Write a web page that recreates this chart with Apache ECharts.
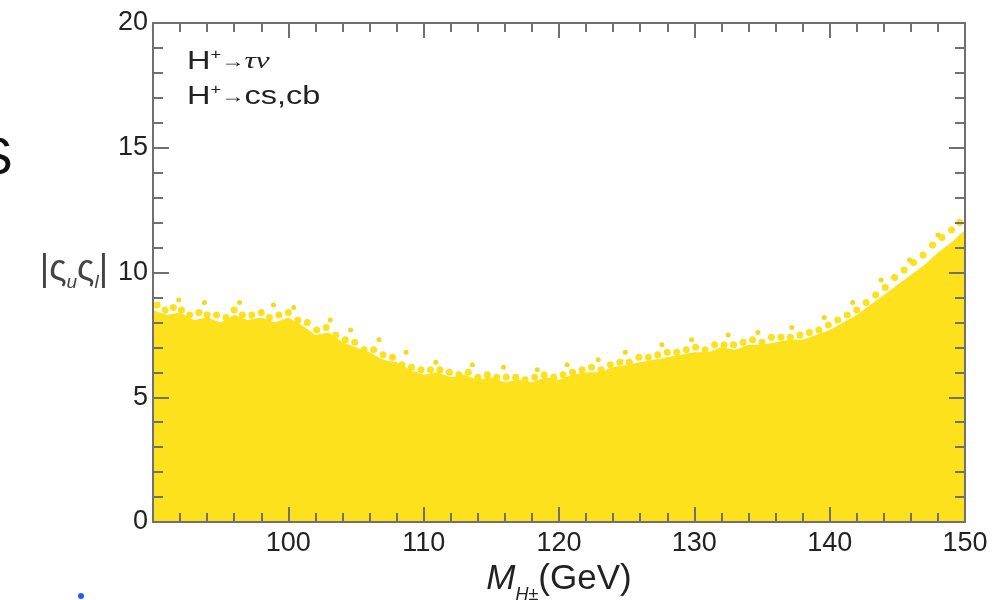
<!DOCTYPE html>
<html>
<head>
<meta charset="utf-8">
<script src="https://cdn.jsdelivr.net/npm/echarts@6/dist/echarts.min.js"></script>
<style>html,body{margin:0;padding:0;background:#fff;}#c{width:995px;height:600px;}</style>
</head>
<body>
<div id="c"></div>
<script>
// ---- data ----
const massGrid = [90,91,92,93,94,95,96,97,98,99,100,101,102,103,104,105,106,107,108,109,110,111,112,113,114,115,116,117,118,119,120,121,122,123,124,125,126,127,128,129,130,131,132,133,134,135,136,137,138,139,140,141,142,143,144,145,146,147,148,149,150];
const envelopeTop = [8.5,8.3,8.4,8.1,8.2,8.0,8.3,8.1,8.2,8.0,8.2,7.9,7.5,7.6,7.2,7.0,6.8,6.5,6.4,6.1,5.9,6.0,5.8,5.9,5.7,5.8,5.6,5.7,5.6,5.8,5.7,5.9,6.0,6.0,6.2,6.3,6.4,6.5,6.6,6.7,6.8,6.8,7.0,6.9,7.1,7.1,7.2,7.3,7.3,7.5,7.7,8.0,8.3,8.7,9.1,9.5,9.9,10.3,10.8,11.2,11.7];
// points sitting on the ragged upper edge
const edgeMass = [90.3,90.9,91.5,92.1,92.7,93.4,94.0,94.7,95.4,96.0,96.6,97.3,98.0,98.6,99.3,100.0,100.7,101.4,102.1,102.8,103.5,104.2,104.9,105.6,106.3,107.0,107.7,108.4,109.1,109.8,110.5,111.2,111.9,112.6,113.3,114.0,114.7,115.4,116.1,116.8,117.5,118.2,118.9,119.6,120.3,121.0,121.7,122.4,123.1,123.8,124.5,125.2,125.9,126.6,127.3,128.0,128.7,129.4,130.1,130.8,131.5,132.2,132.9,133.6,134.3,135.0,135.7,136.4,137.1,137.8,138.5,139.2,139.9,140.6,141.3,142.0,142.7,143.4,144.1,144.8,145.5,146.2,146.9,147.6,148.3,149.0,149.6];
const edgeCoupling = [8.7,8.5,8.6,8.5,8.3,8.4,8.3,8.3,8.2,8.5,8.3,8.3,8.4,8.2,8.3,8.4,8.1,8.0,7.7,7.8,7.5,7.3,7.2,6.9,6.9,6.7,6.6,6.3,6.2,6.1,6.1,6.1,6.0,5.9,6.0,5.8,5.9,5.8,5.8,5.8,5.7,5.8,5.9,5.8,5.9,6.0,6.1,6.2,6.1,6.3,6.4,6.4,6.6,6.6,6.7,6.8,6.8,6.9,7.0,6.9,7.1,7.1,7.1,7.2,7.3,7.2,7.4,7.4,7.4,7.5,7.6,7.7,7.9,8.1,8.3,8.5,8.8,9.1,9.4,9.8,10.1,10.4,10.7,11.1,11.4,11.7,12.0];
// isolated points above the edge
const strayMass = [91.9,93.8,96.4,98.9,100.4,103.1,104.6,106.7,108.7,110.9,113.6,115.9,118.4,120.6,122.9,124.9,127.6,129.8,132.5,134.7,137.2,139.6,141.7,143.8,145.9,148.0];
const strayCoupling = [8.9,8.8,8.8,8.7,8.6,8.1,7.7,7.3,6.8,6.4,6.3,6.2,6.1,6.3,6.5,6.8,7.1,7.3,7.5,7.6,7.8,8.2,8.8,9.7,10.5,11.5];
const xTicks = {min: 90, max: 150, interval: 10};
const yTicks = {min: 0, max: 20, interval: 5};

const fillColor = '#FCE11C';
const edgeColor = '#F3D91C';
const axisColor = '#707070';
const labelFont = 'Liberation Sans, Arial, Helvetica, sans-serif';

const chart = echarts.init(document.getElementById('c'), null, {renderer: 'canvas'});

const baseX = {
  type: 'value', min: xTicks.min, max: xTicks.max, interval: xTicks.interval, z: 5,
  axisLine: {show: true, onZero: false, lineStyle: {color: axisColor, width: 2}},
  axisTick: {show: true, inside: true, length: 15, lineStyle: {color: axisColor, width: 2}},
  minorTick: {show: true, splitNumber: 5, length: 9, lineStyle: {color: axisColor, width: 2}},
  splitLine: {show: false}
};
const baseY = {
  type: 'value', min: yTicks.min, max: yTicks.max, interval: yTicks.interval, z: 5,
  axisLine: {show: true, onZero: false, lineStyle: {color: axisColor, width: 2}},
  axisTick: {show: true, inside: true, length: 16, lineStyle: {color: axisColor, width: 2}},
  minorTick: {show: true, splitNumber: 5, length: 10, lineStyle: {color: axisColor, width: 2}},
  splitLine: {show: false}
};

const option = {
  animation: false,
  backgroundColor: '#ffffff',
  grid: {left: 153, right: 30, top: 23, bottom: 78, containLabel: false, outerBoundsMode: 'none'},
  xAxis: [
    Object.assign({}, baseX, {
      position: 'bottom',
      axisLabel: {show: true, showMinLabel: false, margin: 8, fontSize: 27, color: '#222', fontFamily: labelFont},
      name: '{m|M}{s|H±}{n|(GeV)}',
      nameLocation: 'middle',
      nameGap: 33,
      nameTextStyle: {
        color: '#222',
        rich: {
          m: {fontSize: 35, fontStyle: 'italic', fontFamily: labelFont, lineHeight: 42, verticalAlign: 'top', color: '#222'},
          s: {fontSize: 18, fontStyle: 'italic', fontFamily: labelFont, lineHeight: 18, verticalAlign: 'bottom', color: '#222'},
          n: {fontSize: 35, fontFamily: labelFont, lineHeight: 42, verticalAlign: 'top', color: '#222'}
        }
      }
    }),
    Object.assign({}, baseX, {position: 'top', axisLabel: {show: false}})
  ],
  yAxis: [
    Object.assign({}, baseY, {
      position: 'left',
      axisLabel: {show: true, margin: 5, fontSize: 27, color: '#222', fontFamily: labelFont},
      name: '{t||ς}{s|u}{t|ς}{s|l}{t||}',
      nameLocation: 'middle',
      nameRotate: 0,
      nameGap: 45,
      nameTextStyle: {
        color: '#444',
        rich: {
          t: {fontSize: 36, fontFamily: labelFont, lineHeight: 40, verticalAlign: 'top', color: '#444'},
          s: {fontSize: 19, fontStyle: 'italic', fontFamily: labelFont, lineHeight: 18, verticalAlign: 'bottom', color: '#444'}
        }
      }
    }),
    Object.assign({}, baseY, {position: 'right', axisLabel: {show: false}})
  ],
  series: [
    {
      type: 'line',
      xAxisIndex: 0, yAxisIndex: 0,
      data: massGrid.map((m, i) => [m, envelopeTop[i]]),
      showSymbol: false, symbol: 'none',
      lineStyle: {width: 0, color: fillColor},
      areaStyle: {color: fillColor, opacity: 1},
      z: 2
    },
    {
      type: 'scatter',
      xAxisIndex: 0, yAxisIndex: 0,
      data: edgeMass.map((m, i) => [m, edgeCoupling[i]]),
      symbol: 'circle', symbolSize: 7,
      itemStyle: {color: fillColor, opacity: 1},
      z: 3
    },
    {
      type: 'scatter',
      xAxisIndex: 0, yAxisIndex: 0,
      data: strayMass.map((m, i) => [m, strayCoupling[i]]),
      symbol: 'circle', symbolSize: 5,
      itemStyle: {color: edgeColor, opacity: 1},
      z: 3
    }
  ],
  graphic: [
    {
      type: 'text', x: 187, y: 62, scaleX: 1.3, z: 10,
      style: {
        text: '{a|H}{p|+}{r|→}{g|τν}',
        verticalAlign: 'middle',
        rich: {
          a: {fontSize: 25, fontFamily: labelFont, fill: '#222', lineHeight: 28},
          p: {fontSize: 14, fontFamily: labelFont, fill: '#222', verticalAlign: 'top', lineHeight: 14},
          r: {fontSize: 18, fontFamily: labelFont, fill: '#222', lineHeight: 28},
          g: {fontSize: 24, fontFamily: 'Liberation Serif, serif', fontStyle: 'italic', fill: '#222', lineHeight: 28}
        }
      }
    },
    {
      type: 'text', x: 187, y: 97, scaleX: 1.3, z: 10,
      style: {
        text: '{a|H}{p|+}{r|→}{a|cs,cb}',
        verticalAlign: 'middle',
        rich: {
          a: {fontSize: 25, fontFamily: labelFont, fill: '#222', lineHeight: 28},
          p: {fontSize: 14, fontFamily: labelFont, fill: '#222', verticalAlign: 'top', lineHeight: 14},
          r: {fontSize: 18, fontFamily: labelFont, fill: '#222', lineHeight: 28}
        }
      }
    },
    {
      type: 'text', x: -22, y: 160, z: 10,
      style: {text: 'S', fontSize: 52, fontFamily: labelFont, fill: '#111', verticalAlign: 'middle'}
    },
    {
      type: 'circle', shape: {cx: 81, cy: 596, r: 3}, z: 10,
      style: {fill: '#1E5BFF'}
    }
  ]
};
chart.setOption(option);
</script>
</body>
</html>
